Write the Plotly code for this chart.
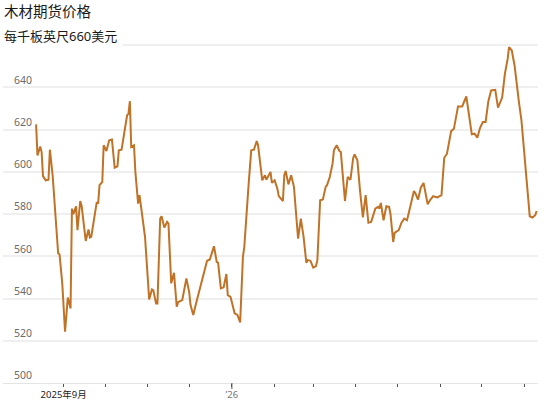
import plotly.graph_objects as go

# ---- data ----
dates_2025 = (
    ["2025-08-12", "2025-08-13", "2025-08-15", "2025-08-16", "2025-08-17", "2025-08-19", "2025-08-21",
     "2025-08-22", "2025-08-24", "2025-08-27", "2025-08-28", "2025-08-29", "2025-08-31"]
    + ["2025-09-02", "2025-09-04", "2025-09-06", "2025-09-07", "2025-09-08", "2025-09-10", "2025-09-11",
       "2025-09-13", "2025-09-14", "2025-09-17", "2025-09-19", "2025-09-20", "2025-09-21", "2025-09-25",
       "2025-09-26", "2025-09-27", "2025-09-29", "2025-09-30"]
    + ["2025-10-02", "2025-10-04", "2025-10-06", "2025-10-08", "2025-10-10", "2025-10-11", "2025-10-13",
       "2025-10-15", "2025-10-17", "2025-10-18", "2025-10-19", "2025-10-20", "2025-10-22", "2025-10-23",
       "2025-10-25", "2025-10-26", "2025-10-30"]
    + ["2025-11-01", "2025-11-02", "2025-11-04", "2025-11-05", "2025-11-07", "2025-11-08", "2025-11-10",
       "2025-11-11", "2025-11-13", "2025-11-15", "2025-11-16", "2025-11-18", "2025-11-20", "2025-11-22",
       "2025-11-23", "2025-11-26", "2025-11-29"]
    + ["2025-12-01", "2025-12-02", "2025-12-04", "2025-12-06", "2025-12-10", "2025-12-12", "2025-12-14",
       "2025-12-16", "2025-12-19", "2025-12-21", "2025-12-22", "2025-12-24", "2025-12-26", "2025-12-28",
       "2025-12-29", "2025-12-31"]
)
dates_2026 = (
    ["2026-01-03", "2026-01-05", "2026-01-07", "2026-01-09", "2026-01-10", "2026-01-13", "2026-01-15",
     "2026-01-17", "2026-01-19", "2026-01-20", "2026-01-23", "2026-01-25", "2026-01-26", "2026-01-29",
     "2026-01-30"]
    + ["2026-02-01", "2026-02-03", "2026-02-04", "2026-02-07", "2026-02-08", "2026-02-09", "2026-02-11",
       "2026-02-13", "2026-02-15", "2026-02-18", "2026-02-20", "2026-02-22", "2026-02-24", "2026-02-25",
       "2026-02-27"]
    + ["2026-03-01", "2026-03-03", "2026-03-04", "2026-03-06", "2026-03-08", "2026-03-10", "2026-03-11",
       "2026-03-13", "2026-03-15", "2026-03-16", "2026-03-18", "2026-03-20", "2026-03-21", "2026-03-24",
       "2026-03-26", "2026-03-28", "2026-03-30", "2026-03-31"]
    + ["2026-04-02", "2026-04-04", "2026-04-06", "2026-04-08", "2026-04-10", "2026-04-12", "2026-04-15",
       "2026-04-17", "2026-04-18", "2026-04-19", "2026-04-21", "2026-04-23", "2026-04-25", "2026-04-26",
       "2026-04-28", "2026-04-29"]
    + ["2026-05-02", "2026-05-04", "2026-05-06", "2026-05-08", "2026-05-10", "2026-05-11", "2026-05-13",
       "2026-05-14", "2026-05-16", "2026-05-18", "2026-05-20", "2026-05-23", "2026-05-25", "2026-05-27",
       "2026-05-30"]
    + ["2026-06-02", "2026-06-04", "2026-06-06", "2026-06-09", "2026-06-11", "2026-06-14", "2026-06-17",
       "2026-06-20", "2026-06-24", "2026-06-26", "2026-06-28", "2026-06-30"]
    + ["2026-07-02", "2026-07-04", "2026-07-06", "2026-07-08", "2026-07-11", "2026-07-13", "2026-07-16",
       "2026-07-18", "2026-07-20", "2026-07-21", "2026-07-23", "2026-07-25", "2026-07-27", "2026-07-28",
       "2026-07-30"]
    + ["2026-08-02", "2026-08-04", "2026-08-05", "2026-08-07", "2026-08-09", "2026-08-10"]
)
prices_2025 = (
    [622.5, 607.8, 612, 609.4, 598, 596, 596.3, 610.5, 598.4, 572, 561.4, 561, 547]
    + [524.3, 540.5, 535.3, 582.6, 580, 583.7, 572.4, 586.2, 584, 567.3, 572.7, 568.9, 569.2, 585.7,
       585, 593.7, 595.2, 612.6]
    + [609.9, 615, 615.3, 602, 602.6, 610.2, 610.5, 618.9, 626.8, 627.5, 633.5, 611.8, 612.6, 600,
       585, 589, 569.2]
    + [549.5, 539.6, 544.3, 544, 537.7, 537.7, 577.9, 579, 573.6, 576.3, 575.5, 547.2, 552.2, 536.1,
       538.3, 539.3, 549.5]
    + [543.2, 536.9, 532.2, 537.7, 547.9, 551.6, 557.9, 558.5, 564.8, 557.4, 556.9, 544.8, 545.3,
       551.6, 541.6, 540.8]
)
prices_2026 = (
    [533, 532.2, 528.7, 559.8, 564.5, 592.9, 610.2, 610.5, 614.6, 612.6, 596, 598.4, 596.3, 600, 594.8]
    + [596, 592, 588.5, 586.2, 598.4, 600.4, 594.1, 598.4, 592.9, 568.4, 577.9, 569.2, 556.9, 558.2,
       557.9]
    + [554.7, 555.4, 558.2, 586.6, 586.9, 592.9, 593.7, 597.6, 603.9, 610.2, 612.6, 609.9, 609.4,
       586.2, 597.6, 596.3, 606.7, 608.3]
    + [605.5, 590.5, 578.4, 589, 575.9, 576.3, 582.6, 583.4, 582.6, 585.3, 577.1, 583.7, 583.4, 580.2,
       566.8, 571.1]
    + [572.4, 575.9, 577.9, 577.1, 583.4, 585.3, 590.9, 590, 586.9, 592.5, 594.8, 584.7, 586.9, 588.5,
       587.9]
    + [589, 606.7, 608.6, 619.3, 620.4, 631, 631, 635.8, 617.8, 618.1, 616.2, 620.9]
    + [623.6, 623.6, 633.5, 638.6, 638.9, 630.4, 635.2, 646.5, 653.5, 659.1, 657.5, 650.4, 638.6,
       633.9, 624.4]
    + [603.9, 586.6, 579, 578.4, 579.5, 581.5]
)

dates = dates_2025 + dates_2026
prices = prices_2025 + prices_2026
assert len(dates) == len(prices)

y_ticks = [500, 520, 540, 560, 580, 600, 620, 640, 660]
y_tick_labels = ["500", "520", "540", "560", "580", "600", "620", "640", ""]
x_ticks = ["2025-09-01", "2025-10-01", "2025-11-01", "2025-12-01", "2026-01-01", "2026-02-01",
           "2026-03-01", "2026-04-01", "2026-05-01", "2026-06-01", "2026-07-01", "2026-08-01"]
x_tick_labels = ["<span style='color:#222222'>2025年9月</span>", "", "", "",
                 "<span style='color:#777777'>’26</span>", "", "", "", "", "", "", ""]
title_text = "木材期货价格"
unit_text = "每千板英尺660美元"

FONT = "Noto Sans, Noto Sans CJK SC, sans-serif"

fig = go.Figure()
fig.add_trace(go.Scatter(
    x=dates, y=prices, mode="lines",
    line=dict(color="#c07326", width=2),
    hoverinfo="skip", showlegend=False,
))

fig.update_layout(
    width=550, height=412,
    margin=dict(l=3, r=12, t=41, b=29),
    paper_bgcolor="white", plot_bgcolor="white",
    font=dict(family=FONT),
    xaxis=dict(
        type="date",
        range=["2025-07-19", "2026-08-11"],
        tickvals=x_ticks, ticktext=x_tick_labels,
        ticks="outside", ticklen=3, tickwidth=1, tickcolor="#555555",
        tickfont=dict(size=9.5, color="#333333"),
        showgrid=False, zeroline=False,
        showline=True, linecolor="#e4e4e4", linewidth=1,
    ),
    yaxis=dict(
        range=[500, 662],
        tickvals=y_ticks, ticktext=y_tick_labels,
        ticklabelposition="inside top", ticks="",
        ticklabelstandoff=8,
        tickfont=dict(size=10.5, color="#6b6b6b"),
        showgrid=True, gridcolor="#efefef", gridwidth=1.5,
        zeroline=False, showline=False,
    ),
    annotations=[
        dict(text=title_text, xref="paper", yref="paper", x=0, y=(383 - 11) / 342,
             xanchor="left", yanchor="middle", showarrow=False, xshift=-1,
             font=dict(size=14.5, color="#1a1a1a", family=FONT)),
        dict(text=unit_text, xref="paper", yref="y", x=0, y=660,
             xanchor="left", yanchor="bottom", showarrow=False,
             bgcolor="white", borderpad=5, xshift=-5, yshift=-6,
             font=dict(size=13, color="#1a1a1a", family=FONT)),
    ],
    shapes=[
        dict(type="line", xref="x", yref="paper", x0="2026-01-01", x1="2026-01-01",
             y0=0, y1=-6 / 342, line=dict(color="#555555", width=1)),
    ],
)

fig.write_html(
    "out.html",
    config={"displayModeBar": False},
    post_script="document.body.style.margin='0';document.body.style.padding='0';",
)
